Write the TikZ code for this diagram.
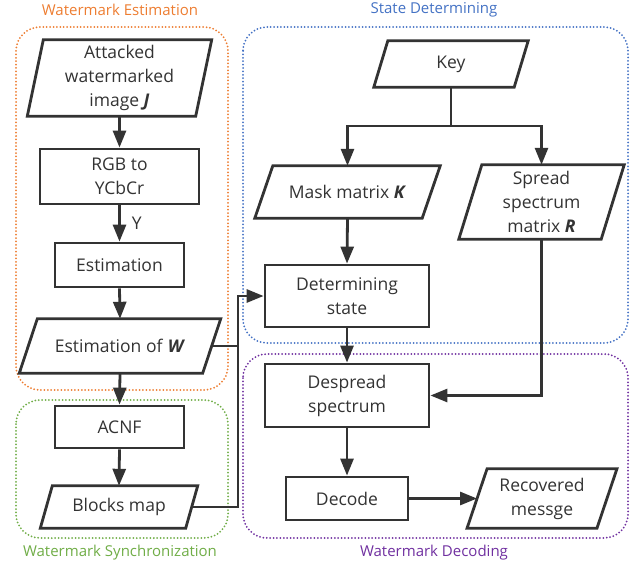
\documentclass[tikz,border=0pt]{standalone}
\usepackage{fontspec}
\setmainfont{Open Sans}
\usetikzlibrary{arrows.meta,calc}
\definecolor{dk}{RGB}{51,51,51}
\definecolor{cor}{RGB}{237,125,49}
\definecolor{cbl}{RGB}{68,114,196}
\definecolor{cgr}{RGB}{112,173,71}
\definecolor{cpu}{RGB}{112,48,160}
\tikzset{
  txt/.style={inner sep=0pt, align=center, font=\fontsize{17.5}{24}\selectfont, text=dk},
  boxn/.style={txt, draw=dk, line width=2.8pt},
  grp/.style={line width=2pt, dash pattern=on 0pt off 3.4pt, line cap=round, rounded corners=24pt},
  ttl/.style={inner sep=0pt, font=\fontsize{15}{16}\selectfont},
  arr/.style={draw=dk, line width=2.8pt, -{Triangle[length=17pt,width=13pt]}},
  ln/.style={draw=dk, line width=2.8pt},
}
\newcommand{\parabox}[7]{%
  \node[txt, minimum width=#4pt, minimum height=#5pt] (#1) at (#2,#3) {#7};
  \draw[dk, line width=2.8pt, line join=miter]
    ([xshift=#6pt]#1.north west) -- ([xshift=#6pt]#1.north east) --
    ([xshift=-#6pt]#1.south east) -- ([xshift=-#6pt]#1.south west) -- cycle;}
\newcommand{\bi}[1]{\textbf{\textit{#1}}}
\begin{document}
\begin{tikzpicture}[x=1pt,y=-1pt]
\useasboundingbox (0,0) rectangle (644,567);
% groups
\draw[grp, cor] (16,27) rectangle (228,390);
\draw[grp, cgr] (16,400) rectangle (228,538);
\draw[grp, cbl] (243,27) rectangle (628,343);
\draw[grp, cpu] (243,354) rectangle (628,538);
\node[ttl, text=cor] (t1) at (120,10) {Watermark Estimation};
\node[ttl, text=cgr] (t2) at (120,553) {Watermark Synchronization};
\node[ttl, text=cbl] (t3) at (434,10) {State Determining};
\node[ttl, text=cpu] (t4) at (434,553) {Watermark Decoding};
% left column
\parabox{att}{119.5}{78}{168}{76}{8}{Attacked\\watermarked\\image \bi{J}}
\node[boxn, minimum width=159pt, minimum height=55pt] (rgb) at (119.5,176.5) {RGB to\\YCbCr};
\node[boxn, minimum width=129pt, minimum height=44pt] (est) at (119.5,265) {Estimation};
\parabox{estw}{120}{346}{183}{54}{9}{Estimation of \bi{W}}
\node[boxn, minimum width=129pt, minimum height=42pt] (acnf) at (119.5,427) {ACNF};
\parabox{blk}{119}{507}{145}{42}{6}{Blocks map}
% right part
\parabox{key}{451}{64}{140}{46}{7}{Key}
\parabox{mask}{347.5}{192}{167}{52}{9}{Mask matrix \bi{K}}
\parabox{spr}{541.5}{202}{142}{74}{11.5}{Spread\\spectrum\\matrix \bi{R}}
\node[boxn, minimum width=164pt, minimum height=62pt] (det) at (347,296) {Determining\\state};
\node[boxn, minimum width=164pt, minimum height=63pt] (desp) at (347,395.5) {Despread\\spectrum};
\node[boxn, minimum width=122pt, minimum height=43pt] (dec) at (347,498.5) {Decode};
\parabox{rec}{542}{498.5}{129.5}{59}{10}{Recovered\\messge}
% connectors
\draw[arr] (att.south) -- (rgb.north);
\draw[arr] (rgb.south) -- node[txt, right=11pt] (ylab) {Y} (est.north);
\draw[arr] (est.south) -- (estw.north);
\draw[arr] (estw.south) -- (acnf.north);
\draw[arr] (acnf.south) -- (blk.north);
\coordinate (jx) at (238,0);
\draw[arr] (estw.east) -- (estw.east -| jx) |- (det.west);
\draw[ln] (blk.east) -| (jx |- estw.east);
\coordinate (sp) at (451,126);
\draw[ln] (key.south) -- (sp);
\draw[arr] (sp) -| (mask.north);
\draw[arr] (sp) -| (spr.north);
\draw[arr] (mask.south) -- (det.north);
\draw[arr] (det.south) -- (desp.north);
\draw[arr] (spr.south) |- (desp.east);
\draw[arr] (desp.south) -- (dec.north);
\draw[arr] (dec.east) -- (rec.west);
\end{tikzpicture}
\end{document}
